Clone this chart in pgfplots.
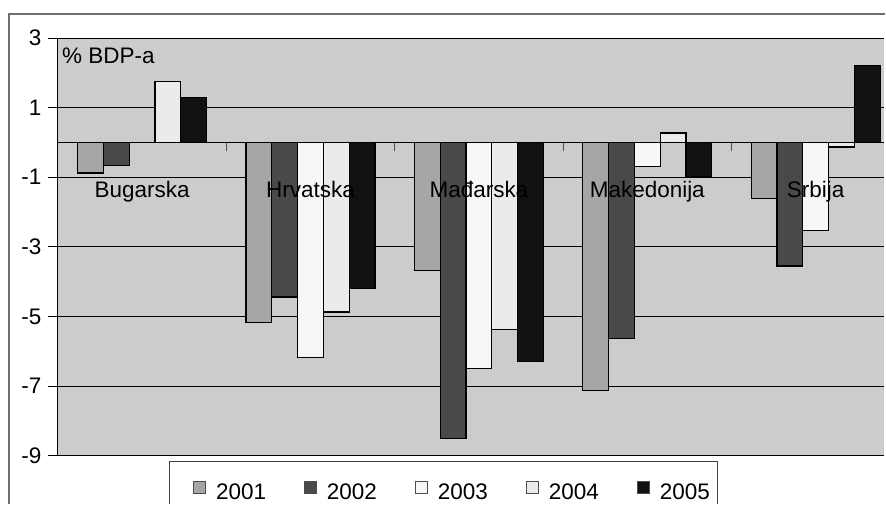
\documentclass[border=0pt]{standalone}
\usepackage{fontspec}
\setmainfont{Liberation Sans}
\usepackage{pgfplots}
\usepackage{pgfplotstable}
\pgfplotsset{compat=1.18}

\newcommand{\chartfont}{\fontsize{22.5bp}{27bp}\selectfont}

\definecolor{plotbg}{HTML}{CCCCCC}
\definecolor{c2001}{HTML}{A6A6A6}
\definecolor{c2002}{HTML}{494949}
\definecolor{c2003}{HTML}{F7F7F7}
\definecolor{c2004}{HTML}{EBEBEB}
\definecolor{c2005}{HTML}{111111}
\definecolor{framegray}{HTML}{6E6E6E}

% category names are printed over the bars, so tick labels go above the main layer
\pgfplotsset{
  layers/labels over bars/.define layer set={
    axis background, axis grid, axis ticks, axis lines,
    main, axis tick labels, axis descriptions, axis foreground
  }{/pgfplots/layers/standard},
}

% Budget balance, % of GDP, by country (0 = Bugarska ... 4 = Srbija)
\pgfplotstableread{
x  y2001  y2002  y2003  y2004  y2005
0  -0.88  -0.67   0.00   1.74   1.28
1  -5.18  -4.44  -6.19  -4.87  -4.19
2  -3.69  -8.51  -6.50  -5.38  -6.30
3  -7.13  -5.64  -0.70   0.27  -0.99
4  -1.62  -3.55  -2.54  -0.13   2.20
}\balance

\begin{document}
\begin{tikzpicture}
\path (0,0) rectangle (886bp,505bp);
% outer chart frame (open to the right and below)
\draw[framegray, line width=1.3bp] (9bp,0.7bp) -- (9bp,491bp) -- (886bp,491bp);
% legend frame (open below)
\draw[black!75, line width=1bp, fill=white] (170bp,0.5bp) -- (170bp,43bp) -- (718bp,43bp) -- (718bp,0.5bp);
\begin{axis}[
  set layers=labels over bars,
  at={(58bp,49bp)}, anchor=south west,
  x=168.5bp, y=34.83bp,
  xmin=-0.5, xmax=4.405, ymin=-9, ymax=3,
  enlargelimits=false,
  axis x line=middle, axis y line=left,
  axis line style={-, black, line width=1bp},
  axis background/.style={fill=plotbg},
  tick align=outside,
  tick label style={font=\chartfont},
  ytick={-9,-7,-5,-3,-1,1,3},
  yticklabels={-9,-7,-5,-3,-1,1,3},
  yticklabel style={xshift=-3bp},
  major tick length=10bp,
  y tick style={black, line width=1bp},
  ymajorgrids,
  grid style={black, line width=1bp},
  xtick={0,1,2,3,4},
  xticklabels={Bugarska,Hrvatska,Mađarska,Makedonija,Srbija},
  major x tick style={draw=none},
  minor xtick={0.5,1.5,2.5,3.5},
  minor tick length=9bp,
  minor x tick style={black!70, line width=1bp},
  xticklabel style={anchor=base, yshift=-45bp},
  ybar=0pt, bar width=25.8bp,
  every axis plot/.append style={draw=black, line width=1.2bp},
  legend columns=5,
  legend style={at={(0.1633,-0.0837)}, anchor=west, draw=none, fill=none,
    inner sep=0pt, font=\chartfont,
    nodes={inner sep=0pt},
    /tikz/every even column/.append style={column sep=38bp},
    /tikz/every odd column/.append style={column sep=10bp}},
  legend image code/.code={\draw[#1, draw=black!70, line width=1bp] (0bp,-1bp) rectangle (12bp,11bp);},
]
\addplot[fill=c2001] table[x=x, y=y2001] {\balance};
\addplot[fill=c2002] table[x=x, y=y2002] {\balance};
\addplot[fill=c2003] table[x=x, y=y2003] {\balance};
\addplot[fill=c2004] table[x=x, y=y2004] {\balance};
\addplot[fill=c2005] table[x=x, y=y2005] {\balance};
\legend{2001,2002,2003,2004,2005}
\end{axis}
\node[anchor=base west, inner sep=0pt, font=\chartfont] at (62bp,441bp) {\% BDP-a};
\end{tikzpicture}
\end{document}
